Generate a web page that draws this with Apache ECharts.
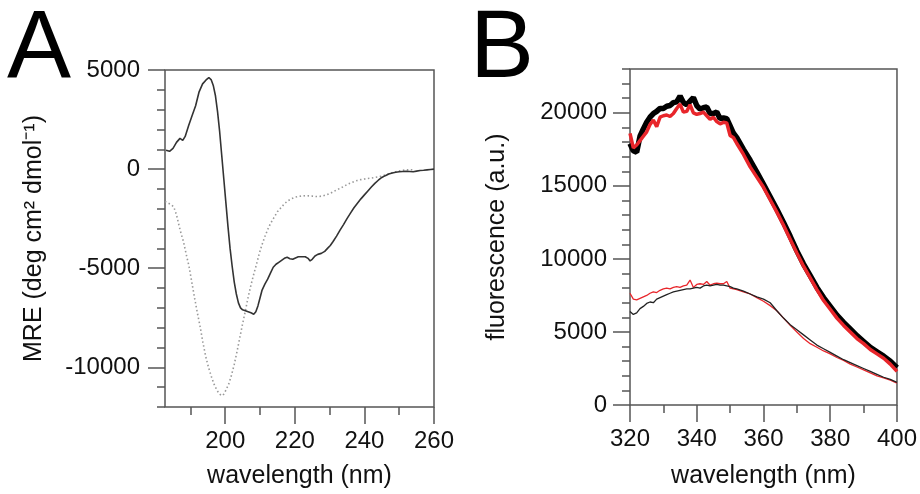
<!DOCTYPE html>
<html>
<head>
<meta charset="utf-8">
<script src="https://cdn.jsdelivr.net/npm/echarts@6/dist/echarts.min.js"></script>
<style>
  html, body { margin: 0; padding: 0; background: #fff; }
  #chart { width: 920px; height: 494px; }
</style>
</head>
<body>
<div id="chart"></div>
<script>
// panel A: CD spectra
const cdSolidWl = [183, 184, 185, 186, 187, 187.8, 188.5, 189.5, 190.5, 191.5, 192.5, 193.5, 194.5, 195.3, 196, 196.6, 197.2, 197.8, 198.4, 199, 199.6, 200.2, 200.8, 201.4, 202, 202.6, 203.2, 203.8, 204.4, 205, 205.8, 206.6, 207.4, 208.2, 208.8, 209.4, 210, 210.6, 211.4, 212.2, 213, 213.8, 214.6, 215.4, 216.2, 217, 217.8, 218.6, 219.4, 220.2, 221, 222, 223, 223.8, 224.4, 225, 225.8, 226.6, 227.6, 228.6, 229.4, 230.2, 231, 232, 233, 234, 235, 236, 237, 238, 239, 240, 241, 242, 243, 244, 245, 246, 247, 248, 249, 250, 251, 252, 253, 254, 255, 256, 257, 258, 259, 260]
const cdSolid = [950, 900, 1050, 1350, 1550, 1450, 1650, 2200, 2700, 3200, 3900, 4300, 4500, 4620, 4500, 4200, 3700, 2900, 1900, 700, -500, -1700, -2900, -4000, -4900, -5700, -6300, -6750, -7000, -7100, -7150, -7200, -7250, -7320, -7200, -6900, -6500, -6100, -5800, -5550, -5250, -4950, -4800, -4700, -4600, -4500, -4450, -4520, -4550, -4480, -4420, -4420, -4420, -4500, -4630, -4550, -4380, -4300, -4250, -4150, -4000, -3850, -3650, -3380, -3080, -2800, -2500, -2220, -1950, -1720, -1500, -1300, -1100, -900, -720, -560, -420, -330, -250, -200, -160, -130, -120, -110, -120, -130, -100, -70, -60, -40, -20, 0]
const cdDotWl = [182.7, 183.5, 184.5, 185.2, 186, 186.8, 187.4, 188, 188.8, 189.6, 190.4, 191.2, 192, 192.8, 193.6, 194.4, 195.2, 196, 196.8, 197.6, 198.4, 199, 199.6, 200.2, 201, 201.8, 202.6, 203.4, 204.2, 205, 205.8, 206.6, 207.4, 208.2, 209, 209.8, 210.6, 211.4, 212.2, 213, 214, 215, 216, 217, 218, 219, 220, 221, 222, 223, 224, 225, 226, 227, 228, 229, 230, 231, 232, 233, 234, 235, 236, 237, 238, 239, 240, 241, 242, 243, 244, 245, 246, 247, 248, 249, 250, 251, 252, 254]
const cdDotted = [-1630, -1700, -1800, -1900, -2300, -2900, -3300, -3650, -4300, -4900, -5700, -6500, -7250, -7950, -8750, -9450, -10000, -10450, -10850, -11150, -11350, -11430, -11350, -11150, -10850, -10400, -9850, -9200, -8500, -7800, -7150, -6450, -5850, -5300, -4800, -4250, -3800, -3400, -3050, -2750, -2450, -2150, -1950, -1750, -1600, -1500, -1420, -1380, -1360, -1340, -1350, -1360, -1380, -1380, -1350, -1300, -1230, -1150, -1050, -970, -880, -780, -700, -630, -570, -530, -500, -470, -450, -420, -390, -350, -300, -240, -180, -130, -90, -60, -40, -30]
const cdXTicks = [200, 220, 240, 260]
const cdXMinor = [190, 210, 230, 250]
const cdYTicks = [-10000, -5000, 0, 5000]

// panel B: fluorescence spectra
const flWl = [320, 321, 322, 323, 324, 325, 326, 327, 328, 329, 330, 331, 332, 333, 334, 335, 336, 337, 338, 339, 340, 341, 342, 343, 344, 345, 346, 347, 348, 349, 350, 351, 352, 354, 356, 358, 360, 362, 364, 366, 368, 370, 372, 374, 376, 378, 380, 382, 384, 386, 388, 390, 392, 394, 396, 398, 400]
const flBlackThick = [17900, 17400, 17300, 18400, 18900, 19350, 19700, 19950, 20100, 20300, 20300, 20450, 20500, 20700, 20750, 21150, 20700, 20550, 20800, 21050, 20500, 20250, 20350, 20400, 19950, 19950, 20050, 19600, 19650, 19600, 19100, 18600, 18300, 17500, 16750, 15950, 15100, 14250, 13400, 12500, 11550, 10550, 9650, 8850, 8050, 7350, 6750, 6150, 5650, 5200, 4750, 4350, 3950, 3650, 3350, 3000, 2550]
const flRedThick = [18600, 17600, 17800, 18100, 18400, 18700, 19200, 19500, 19050, 19700, 19800, 19850, 19750, 19950, 20300, 20600, 20050, 20100, 20550, 20000, 19900, 19950, 20050, 19800, 19550, 19700, 19400, 19250, 19350, 19300, 18450, 18300, 17900, 17150, 16300, 15600, 14900, 14050, 13200, 12300, 11350, 10400, 9500, 8700, 7900, 7150, 6550, 5950, 5450, 5000, 4550, 4200, 3800, 3500, 3200, 2800, 2300]
const flBlackThin = [6400, 6200, 6300, 6600, 6750, 6950, 7050, 7000, 7250, 7350, 7450, 7550, 7650, 7750, 7800, 7850, 7900, 7950, 7950, 8000, 8050, 8000, 8150, 8200, 8150, 8200, 8250, 8200, 8200, 8150, 8100, 8000, 7950, 7800, 7600, 7400, 7250, 7000, 6450, 5950, 5500, 5150, 4800, 4450, 4100, 3850, 3600, 3350, 3100, 2900, 2700, 2500, 2300, 2100, 1900, 1750, 1550]
const flRedThin = [7650, 7250, 7200, 7300, 7400, 7500, 7650, 7750, 7700, 7850, 7950, 8000, 7950, 8050, 8100, 8050, 8150, 8200, 8550, 8050, 8250, 8300, 8250, 8450, 8200, 8300, 8350, 8300, 8300, 8450, 8000, 7950, 7900, 7750, 7600, 7350, 7100, 6800, 6450, 5950, 5450, 5000, 4550, 4200, 3950, 3700, 3500, 3250, 3050, 2800, 2600, 2400, 2200, 2000, 1850, 1700, 1500]
const flXTicks = [320, 340, 360, 380, 400]
const flXMinor = [330, 350, 370, 390]
const flYTicks = [0, 5000, 10000, 15000, 20000]

const FONT = 'Liberation Sans'
const AXIS_COLOR = '#555'
const RED = '#e8262b'

const pairs = (xs, ys) => xs.map((x, i) => [x, ys[i]])

function labelStyle(values, margin) {
  return {
    customValues: values, margin: margin, color: '#111', fontSize: 24, fontFamily: FONT,
    formatter: function (v) { return String(v) }
  }
}
function nameStyle() {
  return { color: '#111', fontSize: 25, fontFamily: FONT }
}
function tick(values, len) {
  return { customValues: values, length: len, lineStyle: { color: AXIS_COLOR, width: 1.5 } }
}
const hiddenLine = { show: false, onZero: false }

const chart = echarts.init(document.getElementById('chart'))
chart.setOption({
  animation: false,
  title: [
    { text: 'A', left: 2, top: -2, textStyle: { fontSize: 96, fontWeight: 'normal', fontFamily: FONT, color: '#000' } },
    { text: 'B', left: 465, top: -2, textStyle: { fontSize: 96, fontWeight: 'normal', fontFamily: FONT, color: '#000' } }
  ],
  grid: [
    { left: 165, top: 70, width: 269, height: 339, show: true, borderColor: AXIS_COLOR, borderWidth: 1.5, backgroundColor: 'transparent' },
    { left: 630, top: 69, width: 269, height: 341, show: true, borderColor: AXIS_COLOR, borderWidth: 1.5, backgroundColor: 'transparent' }
  ],
  xAxis: [
    {
      gridIndex: 0, type: 'value', min: 182.7, max: 260, position: 'bottom',
      axisLine: hiddenLine, splitLine: { show: false },
      axisTick: tick(cdXTicks, 17),
      axisLabel: labelStyle(cdXTicks, 22),
      name: 'wavelength (nm)', nameLocation: 'middle', nameGap: 57, nameTextStyle: nameStyle()
    },
    {
      gridIndex: 0, type: 'value', min: 182.7, max: 260, position: 'bottom',
      axisLine: hiddenLine, splitLine: { show: false }, axisLabel: { show: false },
      axisTick: tick(cdXMinor, 8)
    },
    {
      gridIndex: 1, type: 'value', min: 320, max: 400, position: 'bottom',
      axisLine: hiddenLine, splitLine: { show: false },
      axisTick: tick(flXTicks, 17),
      axisLabel: labelStyle(flXTicks, 22),
      name: 'wavelength (nm)', nameLocation: 'middle', nameGap: 59, nameTextStyle: nameStyle()
    },
    {
      gridIndex: 1, type: 'value', min: 320, max: 400, position: 'bottom',
      axisLine: hiddenLine, splitLine: { show: false }, axisLabel: { show: false },
      axisTick: tick(flXMinor, 8)
    }
  ],
  yAxis: [
    {
      gridIndex: 0, type: 'value', min: -12000, max: 5000, position: 'left',
      axisLine: hiddenLine, splitLine: { show: false },
      axisTick: tick(cdYTicks, 17),
      axisLabel: labelStyle(cdYTicks, 25),
      name: 'MRE (deg cm² dmol⁻¹)', nameLocation: 'middle', nameRotate: 90, nameGap: 118, nameTextStyle: nameStyle()
    },
    {
      gridIndex: 0, type: 'value', min: -12000, max: 5000, interval: 1000, position: 'left',
      axisLine: hiddenLine, splitLine: { show: false }, axisLabel: { show: false },
      axisTick: { length: 8, lineStyle: { color: AXIS_COLOR, width: 1.5 } }
    },
    {
      gridIndex: 1, type: 'value', min: 0, max: 23000, position: 'left',
      axisLine: hiddenLine, splitLine: { show: false },
      axisTick: tick(flYTicks, 17),
      axisLabel: labelStyle(flYTicks, 23),
      name: 'fluorescence (a.u.)', nameLocation: 'middle', nameRotate: 90, nameGap: 120, nameTextStyle: nameStyle()
    },
    {
      gridIndex: 1, type: 'value', min: 0, max: 23000, interval: 1000, position: 'left',
      axisLine: hiddenLine, splitLine: { show: false }, axisLabel: { show: false },
      axisTick: { length: 8, lineStyle: { color: AXIS_COLOR, width: 1.5 } }
    }
  ],
  series: [
    {
      type: 'line', xAxisIndex: 0, yAxisIndex: 0, showSymbol: false,
      lineStyle: { color: '#999', width: 1.6, type: [1.5, 2.5] },
      data: pairs(cdDotWl, cdDotted)
    },
    {
      type: 'line', xAxisIndex: 0, yAxisIndex: 0, showSymbol: false,
      lineStyle: { color: '#333', width: 1.6 },
      data: pairs(cdSolidWl, cdSolid)
    },
    {
      type: 'line', xAxisIndex: 2, yAxisIndex: 2, showSymbol: false,
      lineStyle: { color: '#000', width: 5.5 },
      data: pairs(flWl, flBlackThick)
    },
    {
      type: 'line', xAxisIndex: 2, yAxisIndex: 2, showSymbol: false,
      lineStyle: { color: RED, width: 3.5 },
      data: pairs(flWl, flRedThick)
    },
    {
      type: 'line', xAxisIndex: 2, yAxisIndex: 2, showSymbol: false,
      lineStyle: { color: RED, width: 1.3 },
      data: pairs(flWl, flRedThin)
    },
    {
      type: 'line', xAxisIndex: 2, yAxisIndex: 2, showSymbol: false,
      lineStyle: { color: '#222', width: 1.3 },
      data: pairs(flWl, flBlackThin)
    }
  ]
})
</script>
</body>
</html>
